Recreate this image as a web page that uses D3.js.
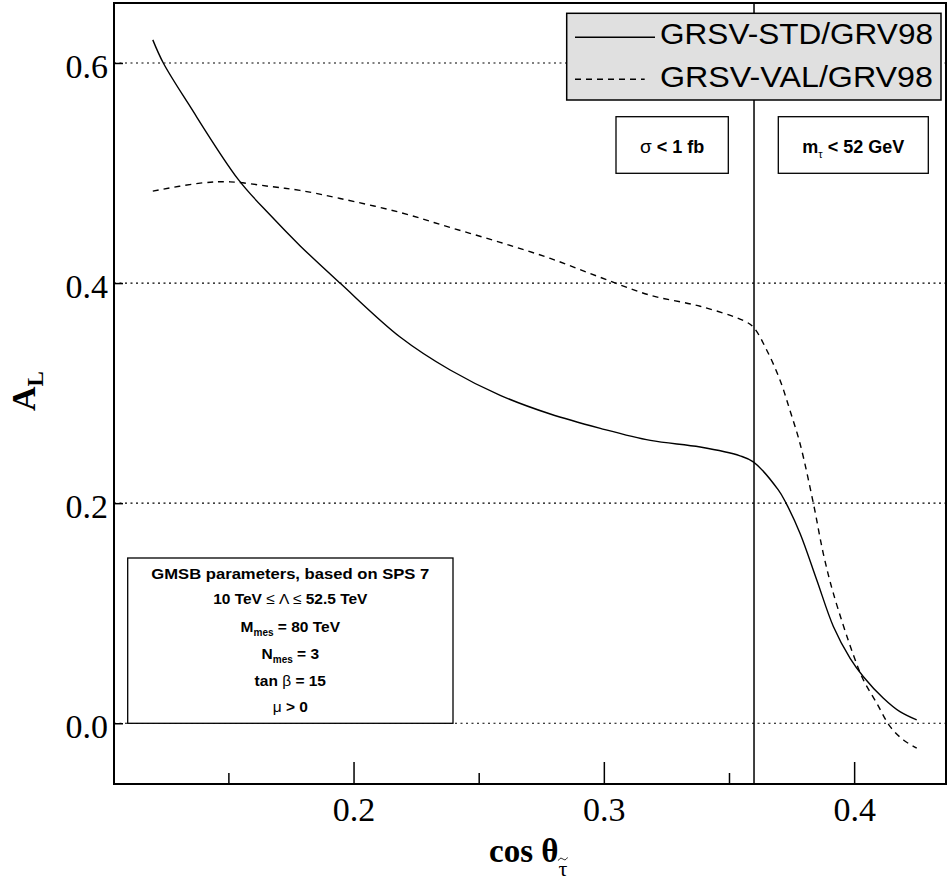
<!DOCTYPE html>
<html>
<head>
<meta charset="utf-8">
<script src="https://cdn.jsdelivr.net/npm/d3@7"></script>
<style>
  body { margin: 0; background: #fff; }
  .serif { font-family: "Liberation Serif", "Times New Roman", serif; }
  .sans { font-family: "Liberation Sans", Arial, sans-serif; }
</style>
</head>
<body>
<div class="chart"></div>
<script>
// values (x = cos theta, y = A_L)
let stdX = [0.1198, 0.1240, 0.1340, 0.1540, 0.1666, 0.1786, 0.1946, 0.2186, 0.2386, 0.2586, 0.2786, 0.2986, 0.3186, 0.3385, 0.3544, 0.3597, 0.3697, 0.3728, 0.3784, 0.3851, 0.3917, 0.3984, 0.4037, 0.4117, 0.4183, 0.4250];
let stdY = [0.621, 0.600, 0.563, 0.494, 0.462, 0.434, 0.400, 0.351, 0.321, 0.298, 0.281, 0.268, 0.257, 0.251, 0.243, 0.2375, 0.212, 0.200, 0.1725, 0.130, 0.088, 0.059, 0.0423, 0.0227, 0.0105, 0.003];

let valX = [0.1198, 0.1387, 0.1507, 0.1666, 0.1786, 0.1946, 0.2186, 0.2386, 0.2586, 0.2786, 0.2986, 0.3186, 0.3385, 0.3557, 0.3597, 0.3651, 0.3704, 0.3744, 0.3784, 0.3837, 0.3877, 0.3917, 0.3997, 0.4037, 0.4090, 0.4144, 0.4197, 0.4250];
let valY = [0.4835, 0.4908, 0.492, 0.4878, 0.4842, 0.4769, 0.4642, 0.4505, 0.437, 0.4224, 0.4052, 0.3889, 0.3789, 0.366, 0.360, 0.339, 0.3117, 0.284, 0.254, 0.200, 0.154, 0.118, 0.062, 0.0393, 0.0184, -0.0031, -0.0152, -0.0227];

let seriesNames = ['GRSV-STD/GRV98', 'GRSV-VAL/GRV98'];
let yTicks = [0.0, 0.2, 0.4, 0.6];
let xMajor = [0.2, 0.3, 0.4];
let xMinor = [0.15, 0.25, 0.35];
let cutX = 0.36;

let margin = {top: 3, right: 1, bottom: 98, left: 114};
let width = 947 - margin.left - margin.right;
let height = 882 - margin.top - margin.bottom;

let svg = d3.select('.chart')
  .append('svg')
    .attr('width', 947)
    .attr('height', 882)
  .append('g')
    .attr('transform', `translate(${margin.left}, ${margin.top})`);

let xScale = d3.scaleLinear().domain([0.1043, 0.4367]).range([0, width]);
let yScale = d3.scaleLinear().domain([-0.0552, 0.6545]).range([height, 0]);

// dotted grid lines
svg.selectAll('.grid')
  .data(yTicks)
  .enter().append('line')
    .attr('x1', 0).attr('x2', width)
    .attr('y1', d => yScale(d)).attr('y2', d => yScale(d))
    .style('stroke', '#000')
    .style('stroke-width', 1.2)
    .style('stroke-dasharray', '2,3.5');

// axes
let xAxis = d3.axisBottom(xScale)
  .tickValues(xMajor)
  .tickSize(-22)
  .tickPadding(13)
  .tickFormat(d3.format('.1f'));
let gx = svg.append('g')
  .attr('transform', `translate(0, ${height})`)
  .call(xAxis);

let gxm = svg.append('g')
  .attr('transform', `translate(0, ${height})`)
  .call(d3.axisBottom(xScale).tickValues(xMinor).tickSize(-11).tickFormat(''));

let yAxis = d3.axisLeft(yScale)
  .tickValues(yTicks)
  .tickSize(-9)
  .tickPadding(6)
  .tickFormat(d3.format('.1f'));
let gy = svg.append('g').call(yAxis);

[gx, gxm, gy].forEach(g => {
  g.select('.domain').remove();
  g.selectAll('line').style('stroke', '#000').style('stroke-width', 1.5);
  g.selectAll('text')
    .attr('class', 'serif')
    .style('font-size', '34px')
    .style('fill', '#000');
});
gy.selectAll('text').attr('dy', '0.43em');

// curves
let line = d3.line()
  .x(d => xScale(d[0]))
  .y(d => yScale(d[1]))
  .curve(d3.curveCatmullRom.alpha(0.5));

svg.append('path')
  .datum(d3.zip(stdX, stdY))
  .attr('d', line)
  .style('fill', 'none')
  .style('stroke', '#000')
  .style('stroke-width', 1.4);

svg.append('path')
  .datum(d3.zip(valX, valY))
  .attr('d', line)
  .style('fill', 'none')
  .style('stroke', '#000')
  .style('stroke-width', 1.4)
  .style('stroke-dasharray', '6,5');

// vertical cut line
svg.append('line')
  .attr('x1', xScale(cutX)).attr('x2', xScale(cutX))
  .attr('y1', 0).attr('y2', height)
  .style('stroke', '#000')
  .style('stroke-width', 1.5);

// frame
svg.append('rect')
  .attr('width', width)
  .attr('height', height)
  .style('fill', 'none')
  .style('stroke', '#000')
  .style('stroke-width', 2);

// legend
let leg = svg.append('g').attr('transform', `translate(${566.7 - margin.left}, ${13.3 - margin.top})`);
leg.append('rect')
  .attr('width', 374.3).attr('height', 86.7)
  .style('fill', '#e0e0e0')
  .style('stroke', '#000')
  .style('stroke-width', 1.5);
seriesNames.forEach((name, i) => {
  let ly = i === 0 ? 24 : 66;
  leg.append('line')
    .attr('x1', 8.3).attr('x2', i === 0 ? 88.3 : 78)
    .attr('y1', ly).attr('y2', ly)
    .style('stroke', '#000')
    .style('stroke-width', 1.4)
    .style('stroke-dasharray', i === 0 ? null : '6,5');
  leg.append('text')
    .attr('class', 'sans')
    .attr('x', 366.3)
    .attr('y', i === 0 ? 31 : 74)
    .attr('text-anchor', 'end')
    .attr('textLength', 273)
    .attr('lengthAdjust', 'spacingAndGlyphs')
    .style('font-size', '29px')
    .text(name);
});

// cut labels
function labelBox(x0, x1, build) {
  let g = svg.append('g');
  g.append('rect')
    .attr('x', x0 - margin.left).attr('y', 116.7 - margin.top)
    .attr('width', x1 - x0).attr('height', 56.6)
    .style('fill', '#fff')
    .style('stroke', '#000')
    .style('stroke-width', 1.3);
  let t = g.append('text')
    .attr('class', 'sans')
    .attr('x', (x0 + x1) / 2 - margin.left)
    .attr('y', 153 - margin.top)
    .attr('text-anchor', 'middle')
    .style('font-size', '18px')
    .style('font-weight', 'bold');
  build(t);
}
labelBox(616, 728.3, t => {
  t.append('tspan').style('font-weight', 'normal').style('font-size', '19px').text('σ');
  t.append('tspan').text(' < 1 fb');
});
labelBox(778.3, 928.3, t => {
  t.append('tspan').text('m');
  t.append('tspan').style('font-size', '11px').style('font-weight', 'normal').attr('dy', 5).text('τ');
  t.append('tspan').attr('dy', -5).text(' < 52 GeV');
});

// parameter box
let pb = svg.append('g');
pb.append('rect')
  .attr('x', 127.7 - margin.left).attr('y', 558 - margin.top)
  .attr('width', 325.3).attr('height', 165.3)
  .style('fill', '#fff')
  .style('stroke', '#000')
  .style('stroke-width', 1.3);
let rows = [579, 604, 632, 659, 686, 712];
let pcx = 290.3 - margin.left;
function row(i) {
  return pb.append('text')
    .attr('class', 'sans')
    .attr('x', pcx)
    .attr('y', rows[i] - margin.top)
    .attr('text-anchor', 'middle')
    .style('font-size', '15.5px')
    .style('font-weight', 'bold');
}
row(0).attr('textLength', 278).attr('lengthAdjust', 'spacingAndGlyphs').text('GMSB parameters, based on SPS 7');
let r1 = row(1);
r1.append('tspan').text('10 TeV ');
r1.append('tspan').style('font-weight', 'normal').text('≤ Λ ≤');
r1.append('tspan').text(' 52.5 TeV');
let r2 = row(2);
r2.append('tspan').text('M');
r2.append('tspan').style('font-size', '10px').attr('dy', 4).text('mes');
r2.append('tspan').attr('dy', -4).text(' = 80 TeV');
let r3 = row(3);
r3.append('tspan').text('N');
r3.append('tspan').style('font-size', '10px').attr('dy', 4).text('mes');
r3.append('tspan').attr('dy', -4).text(' = 3');
let r4 = row(4);
r4.append('tspan').text('tan ');
r4.append('tspan').style('font-weight', 'normal').text('β');
r4.append('tspan').text(' = 15');
let r5 = row(5);
r5.append('tspan').style('font-weight', 'normal').text('μ');
r5.append('tspan').text(' > 0');

// axis titles
let xt = svg.append('text')
  .attr('class', 'serif')
  .attr('x', 489 - margin.left)
  .attr('y', 862 - margin.top)
  .style('font-size', '33px')
  .style('font-weight', 'bold');
xt.append('tspan').text('cos θ');
xt.append('tspan').style('font-size', '22px').style('font-weight', 'normal').attr('dy', 14).text('τ');

// tilde over the subscript tau
let tauStart = xt.node().getStartPositionOfChar(5);
let tauEnd = xt.node().getEndPositionOfChar(5);
let tx = (tauStart.x + tauEnd.x) / 2;
let ty = 862 - margin.top + 14 - 17;
svg.append('path')
  .attr('d', `M${tx - 4.5},${ty + 1.5} C${tx - 2.5},${ty - 2} ${tx - 1},${ty - 0.5} ${tx},${ty} S${tx + 2.5},${ty + 2} ${tx + 4.5},${ty - 1.5}`)
  .style('fill', 'none')
  .style('stroke', '#000')
  .style('stroke-width', 1);

let yt = svg.append('text')
  .attr('class', 'serif')
  .attr('transform', `translate(${35 - margin.left}, ${411 - margin.top}) rotate(-90)`)
  .style('font-size', '34px')
  .style('font-weight', 'bold');
yt.append('tspan').text('A');
yt.append('tspan').style('font-size', '23px').attr('dy', 8).text('L');
</script>
</body>
</html>
